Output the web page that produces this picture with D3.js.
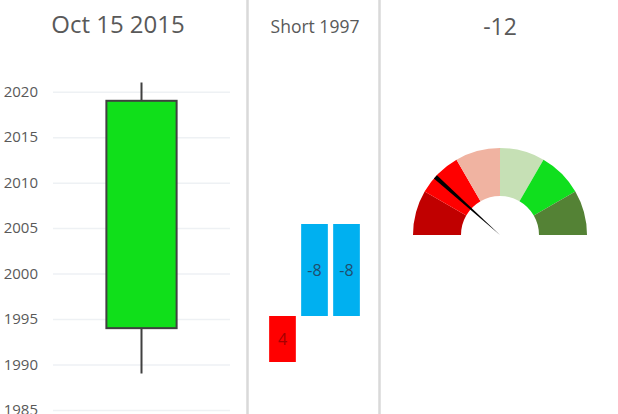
<!DOCTYPE html>
<html>
<head>
<meta charset="utf-8">
<script src="https://cdn.jsdelivr.net/npm/d3@7"></script>
<style>
    body { margin: 0; background: #ffffff; }
    svg { display: block; font-family: "Open Sans", sans-serif; }
    .title { fill: #595959; text-anchor: middle; }
    .y-axis text { fill: #595959; font-size: 15px; }
    .y-axis line { stroke: #eef1f4; stroke-width: 1.5; }
    .sep { stroke: #d9d9d9; stroke-width: 2.5; }
</style>
</head>
<body>
<svg id="chart" width="618" height="414"></svg>
<script>
/*
 * Three small panels side by side: a single candle, a floating bar
 * group and a half doughnut gauge with a needle.
 */

// Candle panel
var candleDates = ["Oct 15 2015"];
var candleOpen = [1994];
var candleClose = [2019];
var candleHigh = [2021];
var candleLow = [1989];
var yearTicks = [1985, 1990, 1995, 2000, 2005, 2010, 2015, 2020];

// Floating bar panel
var barTitle = "Short 1997";
var barCategories = ["first", "second", "third"];
var barStart = [4, 8, 8];
var barEnd = [8, 16, 16];
var barLabels = ["4", "-8", "-8"];
var barColors = ["#ff0000", "#00b0f0", "#00b0f0"];
var barTextColors = ["#a50000", "#1f4e6e", "#1f4e6e"];

// Gauge panel
var gaugeTitle = "-12";
var gaugeStops = [-30, -20, -10, 0, 10, 20, 30];
var gaugeColors = ["#c00000", "#ff0000", "#f0b3a1", "#c6e0b5", "#10df1e", "#548235"];
var needleValue = -16;

var svg = d3.select("#chart");

// Panel separators
svg.selectAll(".sep")
    .data([247.5, 379.5])
    .enter().append("line")
    .attr("class", "sep")
    .attr("x1", function(d) { return d; })
    .attr("x2", function(d) { return d; })
    .attr("y1", 0)
    .attr("y2", 414);

drawCandle();
drawBars();
drawGauge();

function drawCandle() {
    var y = d3.scaleLinear().domain([1985, 2020]).range([410, 91.7]);
    var x = d3.scaleBand().domain(candleDates).range([53, 230])
        .paddingInner(0).paddingOuter(0.76);

    svg.append("text")
        .attr("class", "title")
        .attr("x", 118)
        .attr("y", 33)
        .style("font-size", "24px")
        .text(candleDates[0]);

    // axis with the ticks stretched into gridlines
    var axis = d3.axisLeft(y)
        .tickValues(yearTicks)
        .tickFormat(d3.format("d"))
        .tickSizeInner(-177)
        .tickSizeOuter(0)
        .tickPadding(15);
    var g = svg.append("g")
        .attr("class", "y-axis")
        .attr("transform", "translate(53,0)")
        .call(axis);
    g.select(".domain").remove();
    g.selectAll("text").style("font-family", "Open Sans, sans-serif");

    var candles = svg.selectAll(".candle")
        .data(candleDates)
        .enter().append("g")
        .attr("class", "candle");

    candles.append("line")
        .attr("x1", function(d) { return x(d) + x.bandwidth() / 2; })
        .attr("x2", function(d) { return x(d) + x.bandwidth() / 2; })
        .attr("y1", function(d, i) { return y(candleHigh[i]); })
        .attr("y2", function(d, i) { return y(candleLow[i]); })
        .attr("stroke", "#404040")
        .attr("stroke-width", 2);

    candles.append("rect")
        .attr("x", function(d) { return x(d); })
        .attr("width", x.bandwidth())
        .attr("y", function(d, i) { return y(Math.max(candleOpen[i], candleClose[i])); })
        .attr("height", function(d, i) {
            return Math.abs(y(candleOpen[i]) - y(candleClose[i]));
        })
        .attr("fill", function(d, i) { return candleClose[i] >= candleOpen[i] ? "#10df1a" : "#ff0000"; })
        .attr("stroke", "#404040")
        .attr("stroke-width", 2);
}

function drawBars() {
    var y = d3.scaleLinear().domain([0, 30]).range([408, 63]);
    var x = d3.scaleBand().domain(barCategories).range([258, 371])
        .paddingInner(0.166).paddingOuter(0.348);

    svg.append("text")
        .attr("class", "title")
        .attr("x", 315)
        .attr("y", 33)
        .style("font-size", "17.5px")
        .text(barTitle);

    svg.selectAll(".fbar")
        .data(barCategories)
        .enter().append("rect")
        .attr("class", "fbar")
        .attr("x", function(d) { return x(d); })
        .attr("width", x.bandwidth())
        .attr("y", function(d, i) { return y(barEnd[i]); })
        .attr("height", function(d, i) { return y(barStart[i]) - y(barEnd[i]); })
        .attr("fill", function(d, i) { return barColors[i]; });

    svg.selectAll(".fbar-label")
        .data(barCategories)
        .enter().append("text")
        .attr("class", "fbar-label")
        .attr("x", function(d) { return x(d) + x.bandwidth() / 2; })
        .attr("y", function(d, i) { return y((barStart[i] + barEnd[i]) / 2); })
        .attr("dy", "0.35em")
        .attr("text-anchor", "middle")
        .style("font-size", "16px")
        .attr("fill", function(d, i) { return barTextColors[i]; })
        .text(function(d, i) { return barLabels[i]; });
}

function drawGauge() {
    var cx = 500, cy = 235;
    var angle = d3.scaleLinear()
        .domain([gaugeStops[0], gaugeStops[gaugeStops.length - 1]])
        .range([-Math.PI / 2, Math.PI / 2]);

    svg.append("text")
        .attr("class", "title")
        .attr("x", cx)
        .attr("y", 35)
        .style("font-size", "23px")
        .text(gaugeTitle);

    var g = svg.append("g")
        .attr("transform", "translate(" + cx + "," + cy + ")");

    var band = d3.arc().innerRadius(39).outerRadius(87);
    g.selectAll(".band")
        .data(gaugeColors)
        .enter().append("path")
        .attr("class", "band")
        .attr("d", function(d, i) {
            return band({startAngle: angle(gaugeStops[i]), endAngle: angle(gaugeStops[i + 1])});
        })
        .attr("fill", function(d) { return d; });

    // needle is a very thin pie slice
    var needle = d3.arc().innerRadius(0).outerRadius(87);
    var a = angle(needleValue);
    g.append("path")
        .attr("d", needle({startAngle: a - 0.026, endAngle: a + 0.026}))
        .attr("fill", "#000000");
}
</script>
</body>
</html>
